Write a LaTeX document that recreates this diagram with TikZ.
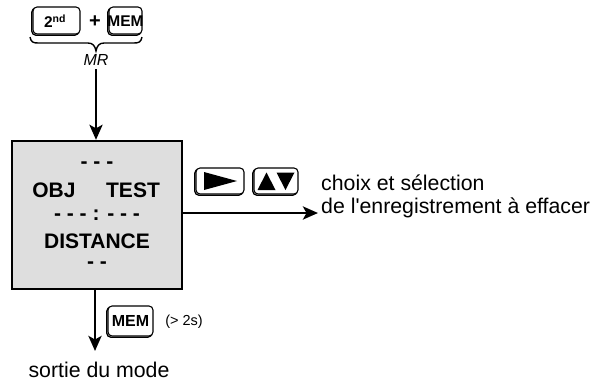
\documentclass[tikz,border=0pt]{standalone}
\usepackage{fontspec}
\setmainfont{Liberation Sans}
\usetikzlibrary{arrows.meta}
\tikzset{
  keycap/.style={draw, line width=1.1pt, rounded corners=4pt, fill=white,
    preaction={draw, line width=1.3pt, rounded corners=4pt, transform canvas={xshift=-1.2pt,yshift=-1.2pt}}},
  boxtxt/.style={font=\fontsize{21}{23}\selectfont\bfseries, inner sep=0pt},
  keytxt/.style={font=\fontsize{15.5}{17}\selectfont\bfseries, inner sep=0pt},
  plaintxt/.style={font=\fontsize{21.3}{23}\selectfont, inner sep=0pt, align=left},
  flow/.style={line width=2.8pt, -{Stealth[length=15pt,width=13pt,inset=3.5pt]}},
}
\begin{document}
\begin{tikzpicture}[x=1pt,y=-1pt]
\useasboundingbox (0,0) rectangle (596,383);
% top keys
\draw[keycap] (33,7) rectangle (80,34);
\node[keytxt] (k2nd) at (55,21) {2\textsuperscript{\fontsize{10.5}{10.5}\selectfont nd}};
\node[font=\fontsize{20}{20}\selectfont\bfseries, inner sep=0pt] (plus) at (95,22) {+};
\draw[keycap] (109,7) rectangle (142,34);
\node[keytxt] (kmem) at (125.5,21) {MEM};
% brace
\draw[line width=1.4pt] (30,37) .. controls (31,42) and (33,43) .. (38,43)
  -- (88,43) .. controls (93,43) and (95,46) .. (96,51)
  .. controls (97,46) and (99,43) .. (104,43)
  -- (134,43) .. controls (139,43) and (141,42) .. (142,37);
\node[font=\fontsize{16}{18}\selectfont\itshape, inner sep=0pt] (mr) at (96,60) {MR};
\coordinate (topstart) at (96,69);
% main box
\node[draw, line width=2.3pt, fill=black!13, minimum width=170pt, minimum height=148pt, inner sep=0pt] (box) at (97,215) {};
\node[boxtxt] (d1) at (97,165) {- - -};
\node[boxtxt] (obj) at (54,190) {OBJ};
\node[boxtxt] (test) at (133,190) {TEST};
\node[boxtxt] (d2) at (97,215) {- - - : - - -};
\node[boxtxt] (dist) at (97,241) {DISTANCE};
\node[boxtxt] (d3) at (97,265) {- -};
\draw[flow] (topstart) -- (box.north -| topstart);
% right arrow
\coordinate (rstart) at (box.east |- 0,213);
\coordinate (rend) at (318,213);
\draw[flow] (rstart) -- (rend);
\draw[keycap] (196,168) rectangle (244,194);
\fill (204,172) -- (237,181) -- (204,190) -- cycle;
\draw[keycap] (254,168) rectangle (298,194);
\fill (257.5,190) -- (266.5,172.5) -- (275.5,190) -- cycle;
\fill (276.5,172.5) -- (285.5,190) -- (294.5,172.5) -- cycle;
\node[plaintxt, anchor=west] (choix) at (321,196) {choix et sélection\\de l\textquotesingle enregistrement à effacer};
% bottom arrow
\coordinate (bstart) at (95,289);
\coordinate (bend) at (95,351);
\draw[flow] (box.south -| bstart) -- (bend);
\draw[keycap] (108,306) rectangle (153,336);
\node[font=\fontsize{16}{18}\selectfont\bfseries, inner sep=0pt] (kmem2) at (130.5,321) {MEM};
\node[font=\fontsize{14.5}{16}\selectfont, inner sep=0pt] (gt) at (184,322) {(> 2s)};
\node[plaintxt] (sortie) at (99,370) {sortie du mode};
\end{tikzpicture}
\end{document}
